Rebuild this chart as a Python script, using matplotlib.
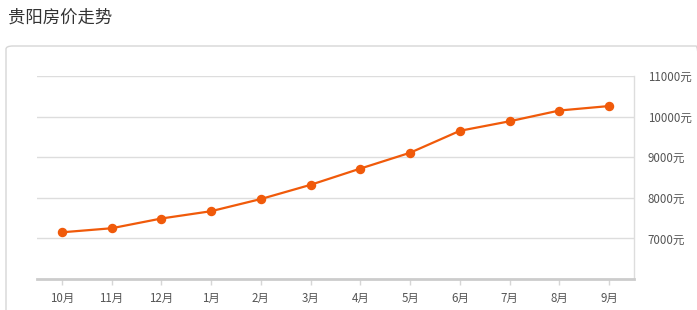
import matplotlib.pyplot as plt
from matplotlib.patches import FancyBboxPatch

plt.rcParams['font.family'] = ['Noto Sans CJK SC', 'DejaVu Sans']

months = ["10月", "11月", "12月", "1月", "2月", "3月", "4月", "5月", "6月", "7月", "8月", "9月"]
prices = [7150, 7250, 7490, 7670, 7970, 8320, 8720, 9110, 9650, 9885, 10150, 10260]
yticks = [7000, 8000, 9000, 10000, 11000]
ytick_labels = ["7000元", "8000元", "9000元", "10000元", "11000元"]

W, H = 697, 310
fig = plt.figure(figsize=(W / 100, H / 100), dpi=100)

# title and outer panel
fig.text(8 / W, 1 - 18 / H, "贵阳房价走势", fontsize=12.5, color="#333333", va="center", ha="left")
panel = FancyBboxPatch((6 / W, -0.1), 1.0, 0.1 + 1 - 46 / H,
                       boxstyle="round,pad=0,rounding_size=0.01",
                       transform=fig.transFigure, facecolor="none",
                       edgecolor="#d6d6d6", linewidth=1, clip_on=False)
fig.patches.append(panel)

ax = fig.add_axes([37 / W, (H - 279) / H, (634 - 37) / W, (279 - 76) / H])
x = list(range(len(months)))
ax.plot(x, prices, color="#f05a0a", linewidth=1.6, marker="o", markersize=5.8, zorder=3)

ax.set_xlim(-0.5, len(months) - 0.5)
ax.set_ylim(6000, 11000)
ax.set_xticks(x)
ax.set_xticklabels(months)
ax.set_yticks(yticks)
ax.set_yticklabels(ytick_labels)
ax.yaxis.tick_right()
ax.tick_params(axis="y", length=0, pad=10, labelsize=8.3, labelcolor="#555555")
ax.tick_params(axis="x", length=4, width=1, color="#d6d6d6", pad=5, labelsize=8.3, labelcolor="#555555")
ax.grid(axis="y", color="#dddddd", linewidth=1)
ax.set_axisbelow(True)

for s in ["top", "left"]:
    ax.spines[s].set_visible(False)
ax.spines["right"].set_color("#dddddd")
ax.spines["right"].set_linewidth(1)
ax.spines["bottom"].set_color("#cccccc")
ax.spines["bottom"].set_linewidth(2)

fig.savefig("out.png", dpi=100)
